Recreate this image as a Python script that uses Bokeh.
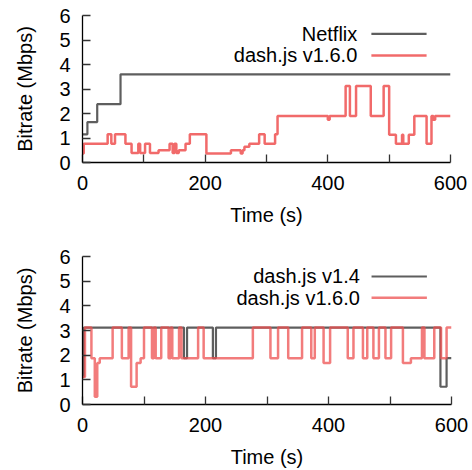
from bokeh.plotting import figure
from bokeh.models import Range1d, FixedTicker, Label, Arrow
from bokeh.layouts import column
from bokeh.embed import file_html
from bokeh.resources import INLINE

# ---------------- data ----------------
x_ticks = [0, 100, 200, 300, 400, 500, 600]
x_tick_labels = {0: "0", 100: "", 200: "200", 300: "", 400: "400", 500: "", 600: "600"}
y_ticks = [0, 1, 2, 3, 4, 5, 6]

# top panel
netflix_t = [0, 8, 24, 62, 600]
netflix_v = [1.15, 1.65, 2.38, 3.6, 3.6]

dash16_top_t = [0, 2, 41, 47, 53, 70, 80, 91, 94, 102, 110, 124, 142, 147, 150, 153,
                157, 168, 175, 202, 242, 258, 261, 264, 272, 288, 297, 314, 318, 400,
                403, 429, 436, 446, 470, 491, 500, 511, 521, 523, 532, 541, 561, 569,
                572, 575, 600]
dash16_top_v = [0.37, 0.77, 1.15, 0.77, 1.15, 0.77, 0.39, 0.77, 0.39, 0.77, 0.39, 0.5,
                0.77, 0.39, 0.77, 0.39, 0.5, 0.77, 1.15, 0.37, 0.5, 0.37, 0.5, 0.64,
                0.77, 1.15, 0.77, 1.15, 1.9, 1.75, 1.9, 3.12, 1.9, 3.12, 1.9, 3.12,
                1.13, 0.77, 1.13, 0.77, 1.13, 1.9, 0.77, 1.9, 1.75, 1.9, 1.9]

# bottom panel
dash14_t = [0, 2, 165, 170, 212, 217, 582, 592, 600]
dash14_v = [1.11, 3.12, 1.88, 3.12, 1.88, 3.12, 0.72, 1.88, 1.88]

dash16_bot_t = [0, 4, 14.5, 20, 24, 28, 49, 64, 75, 79, 88, 94.5, 100, 113, 116, 119,
                128, 140, 143.5, 146, 157, 161, 188, 197, 277, 305.6, 318, 334.5, 357,
                372, 377.7, 392, 402.6, 431.3, 440.6, 456, 463, 473, 482, 492.6, 501.8,
                521, 534, 552, 556, 572, 583, 592, 600]
dash16_bot_v = [1.11, 3.12, 1.88, 0.31, 1.68, 1.88, 3.12, 1.88, 3.12, 0.72, 1.68, 1.88,
                3.12, 1.88, 3.12, 1.88, 3.12, 1.88, 3.12, 1.88, 3.12, 1.88, 3.12, 1.88,
                3.12, 1.88, 3.12, 1.88, 3.12, 1.88, 3.12, 1.68, 3.12, 1.88, 3.12, 1.88,
                3.12, 1.88, 3.12, 1.88, 3.12, 1.68, 1.88, 3.12, 1.88, 3.12, 1.88, 3.12,
                3.12]

FONT = "Liberation Sans"
GRAY = "#4d4d4d"
RED = "#ee5050"


def make_fig(fw, fh, bl, br, bt, bb):
    p = figure(frame_width=fw, frame_height=fh, min_border_left=bl, min_border_right=br,
               min_border_top=bt, min_border_bottom=bb, x_range=Range1d(0, 600),
               y_range=Range1d(0, 6), output_backend="svg", toolbar_location=None,
               background_fill_color="white", border_fill_color="white")
    p.outline_line_color = None
    p.xgrid.visible = False
    p.ygrid.visible = False
    for ax in (p.xaxis[0], p.yaxis[0]):
        ax.major_tick_in = 8
        ax.major_tick_out = 0
        ax.minor_tick_line_color = None
        ax.axis_line_color = "black"
        ax.axis_line_width = 1.3
        ax.major_tick_line_color = "#333333"
        ax.major_tick_line_width = 1.3
        ax.major_label_text_font = FONT
        ax.major_label_text_font_size = "20px"
        ax.major_label_text_color = "black"
        ax.axis_label_text_font = FONT
        ax.axis_label_text_font_size = "20px"
        ax.axis_label_text_font_style = "normal"
        ax.axis_label_text_color = "black"
    p.xaxis.ticker = FixedTicker(ticks=x_ticks)
    p.xaxis.major_label_overrides = x_tick_labels
    p.yaxis.ticker = FixedTicker(ticks=y_ticks)
    p.xaxis.axis_label = "Time (s)"
    p.yaxis.axis_label = "Bitrate (Mbps)"
    p.xaxis.major_label_standoff = 13
    p.xaxis.axis_label_standoff = 11
    p.yaxis.major_label_standoff = 12
    p.yaxis.axis_label_standoff = 20
    return p


def add_legend(p, entries, x_text, x0, x1, ys):
    for (label, color, width, alpha), yy in zip(entries, ys):
        p.add_layout(Label(x=x_text, y=yy, text=label, text_font=FONT,
                           text_font_size="20px", text_align="right",
                           text_baseline="middle", text_color="black"))
        p.add_layout(Arrow(end=None, x_start=x0, y_start=yy, x_end=x1, y_end=yy,
                           line_color=color, line_width=width, line_alpha=alpha))


# top panel
p1 = make_fig(368, 147, 82, 20, 15, 73)
p1.step(netflix_t, netflix_v, mode="after", line_color=GRAY, line_width=2.2, line_alpha=0.9)
p1.step(dash16_top_t, dash16_top_v, mode="after", line_color=RED, line_width=2.5, line_alpha=0.85)
add_legend(p1, [("Netflix", GRAY, 2.2, 0.9), ("dash.js v1.6.0", RED, 2.5, 0.85)],
           448, 471, 561, [5.25, 4.37])

# bottom panel
p2 = make_fig(369, 148, 78, 23, 21, 56)
p2.step(dash14_t, dash14_v, mode="after", line_color=GRAY, line_width=2.2, line_alpha=0.9)
p2.step(dash16_bot_t, dash16_bot_v, mode="after", line_color=RED, line_width=2.5, line_alpha=0.75)
add_legend(p2, [("dash.js v1.4", GRAY, 2.2, 0.9), ("dash.js v1.6.0", RED, 2.5, 0.75)],
           451, 470, 560, [5.19, 4.33])

layout = column(p1, p2, spacing=0)
open("out.html", "w").write(file_html(layout, INLINE))
